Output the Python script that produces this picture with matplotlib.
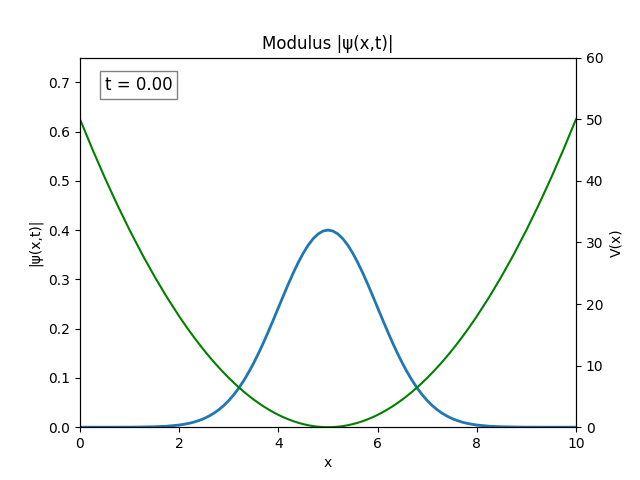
import numpy as np
import matplotlib.pyplot as plt

# sample points (denser around the peak)
x = [0.0, 0.25, 0.5, 0.75, 1.0, 1.25, 1.5, 1.75,
     2.0, 2.1, 2.2, 2.3, 2.4, 2.5, 2.6, 2.7, 2.8, 2.9,
     3.0, 3.1, 3.2, 3.3, 3.4, 3.5, 3.6, 3.7, 3.8, 3.9,
     4.0, 4.1, 4.2, 4.3, 4.4, 4.5, 4.6, 4.7, 4.8, 4.9,
     5.0, 5.1, 5.2, 5.3, 5.4, 5.5, 5.6, 5.7, 5.8, 5.9,
     6.0, 6.1, 6.2, 6.3, 6.4, 6.5, 6.6, 6.7, 6.8, 6.9,
     7.0, 7.1, 7.2, 7.3, 7.4, 7.5, 7.6, 7.7, 7.8, 7.9,
     8.0, 8.25, 8.5, 8.75, 9.0, 9.25, 9.5, 9.75, 10.0]
psi_abs = [0.0, 0.0, 0.0, 0.0, 0.0001, 0.0004, 0.0009, 0.002,
           0.0044, 0.006, 0.0079, 0.0104, 0.0136, 0.0176, 0.0225, 0.0284, 0.0356, 0.0441,
           0.0541, 0.0658, 0.0792, 0.0943, 0.1112, 0.1299, 0.1501, 0.1718, 0.1947, 0.2184,
           0.2426, 0.2668, 0.2905, 0.3131, 0.3341, 0.353, 0.3692, 0.3824, 0.3921, 0.398,
           0.4, 0.398, 0.3921, 0.3824, 0.3692, 0.353, 0.3341, 0.3131, 0.2905, 0.2668,
           0.2426, 0.2184, 0.1947, 0.1718, 0.1501, 0.1299, 0.1112, 0.0943, 0.0792, 0.0658,
           0.0541, 0.0441, 0.0356, 0.0284, 0.0225, 0.0176, 0.0136, 0.0104, 0.0079, 0.006,
           0.0044, 0.002, 0.0009, 0.0004, 0.0001, 0.0, 0.0, 0.0, 0.0]
V = [50.0, 45.13, 40.5, 36.13, 32.0, 28.13, 24.5, 21.13,
     18.0, 16.82, 15.68, 14.58, 13.52, 12.5, 11.52, 10.58, 9.68, 8.82,
     8.0, 7.22, 6.48, 5.78, 5.12, 4.5, 3.92, 3.38, 2.88, 2.42,
     2.0, 1.62, 1.28, 0.98, 0.72, 0.5, 0.32, 0.18, 0.08, 0.02,
     0.0, 0.02, 0.08, 0.18, 0.32, 0.5, 0.72, 0.98, 1.28, 1.62,
     2.0, 2.42, 2.88, 3.38, 3.92, 4.5, 5.12, 5.78, 6.48, 7.22,
     8.0, 8.82, 9.68, 10.58, 11.52, 12.5, 13.52, 14.58, 15.68, 16.82,
     18.0, 21.13, 24.5, 28.13, 32.0, 36.13, 40.5, 45.13, 50.0]

fig, ax = plt.subplots(figsize=(6.4, 4.8), dpi=100)
ax.plot(x, psi_abs, color='tab:blue', lw=2)
ax.set_xlim(0, 10)
ax.set_ylim(0, 0.75)
ax.set_xlabel('x')
ax.set_ylabel('|ψ(x,t)|')
ax.set_title('Modulus |ψ(x,t)|')
ax.text(0.05, 0.95, 't = 0.00', transform=ax.transAxes, fontsize=12, va='top',
        bbox=dict(boxstyle='square', facecolor='white', edgecolor='gray'))

ax2 = ax.twinx()
ax2.plot(x, V, color='green', lw=1.5)
ax2.set_ylim(0, 60)
ax2.set_ylabel('V(x)')

plt.savefig('out.png')
